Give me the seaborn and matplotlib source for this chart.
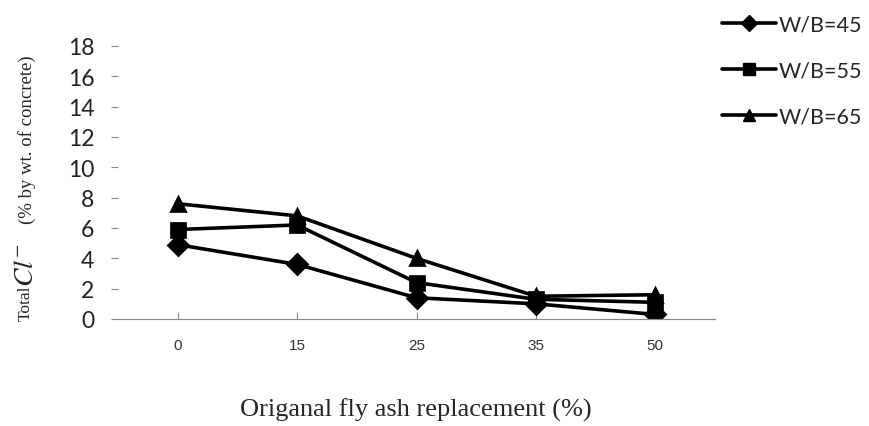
import matplotlib
matplotlib.use("Agg")
import matplotlib.pyplot as plt
import seaborn as sns
import pandas as pd
from matplotlib.lines import Line2D

# Fly ash replacement levels (categorical axis) and total chloride content
replacement = ["0", "15", "25", "35", "50"]
wb45 = [4.9, 3.6, 1.4, 1.0, 0.3]
wb55 = [5.9, 6.2, 2.4, 1.3, 1.1]
wb65 = [7.6, 6.8, 4.0, 1.5, 1.6]
series_names = ["W/B=45", "W/B=55", "W/B=65"]
yticks = [0, 2, 4, 6, 8, 10, 12, 14, 16, 18]

rows = []
for name, vals in zip(series_names, [wb45, wb55, wb65]):
    for r, v in zip(replacement, vals):
        rows.append({"replacement": r, "chloride": v, "mix": name})
df = pd.DataFrame(rows)

sns.set_style("white")
plt.rcParams["mathtext.fontset"] = "stix"
fig = plt.figure(figsize=(8.7, 4.27), dpi=100)
ax = fig.add_axes([118 / 870, 107 / 427, 597 / 870, 273 / 427])

markers = ["D", "s", "^"]
sns.pointplot(
    data=df, x="replacement", y="chloride", hue="mix",
    order=replacement, hue_order=series_names,
    palette=["black"] * 3, markers=markers, linestyles=["-"] * 3,
    markersize=10, linewidth=2.6, legend=False, ax=ax,
)

ax.set_xlim(-0.5, len(replacement) - 0.5)
ax.set_ylim(0, 18)
ax.set_yticks(yticks)
ax.set_yticklabels([str(t) for t in yticks], fontfamily="Lato", fontsize=16.5, color="#222222")
ax.set_xticks(range(len(replacement)))
ax.set_xticklabels(replacement, fontfamily="Liberation Sans", fontsize=11, color="#333333")
ax.tick_params(axis="y", direction="out", length=5, width=0.8, color="#888888", pad=12, left=True)
ax.tick_params(axis="x", direction="in", length=5, width=0.8, color="#888888", pad=14, bottom=True)
for side in ["top", "right", "left"]:
    ax.spines[side].set_visible(False)
ax.spines["bottom"].set_color("#888888")
ax.spines["bottom"].set_linewidth(0.9)
ax.set_xlabel("")
ax.set_ylabel("")
ax.grid(False)

# x axis title
fig.text(416 / 870, 1 - 410 / 427, "Origanal fly ash replacement (%)",
         family="Liberation Serif", fontsize=19, ha="center", va="center")

# y axis title in three pieces
fig.text(26 / 870, 1 - 303 / 427, "Total", family="Liberation Serif", fontsize=12.5,
         rotation=90, ha="center", va="center")
fig.text(25 / 870, 1 - 265 / 427, r"$Cl^{-}$", fontsize=20,
         rotation=90, ha="center", va="center")
fig.text(27 / 870, 1 - 140 / 427, "(% by wt. of concrete)", family="Liberation Serif",
         fontsize=13.5, rotation=90, ha="center", va="center")

# legend on the right
handles = [Line2D([0], [0], color="black", lw=2.6, marker=m, markersize=8 if m != "s" else 9)
           for m in markers]
fig.legend(handles, series_names, loc="upper left", bbox_to_anchor=(703 / 870, 1 + 4 / 427),
           frameon=False, handlelength=2.5, labelspacing=1.2, handletextpad=0.1,
           prop={"family": "Lato", "size": 15.5})

fig.savefig("out.png", dpi=100)
